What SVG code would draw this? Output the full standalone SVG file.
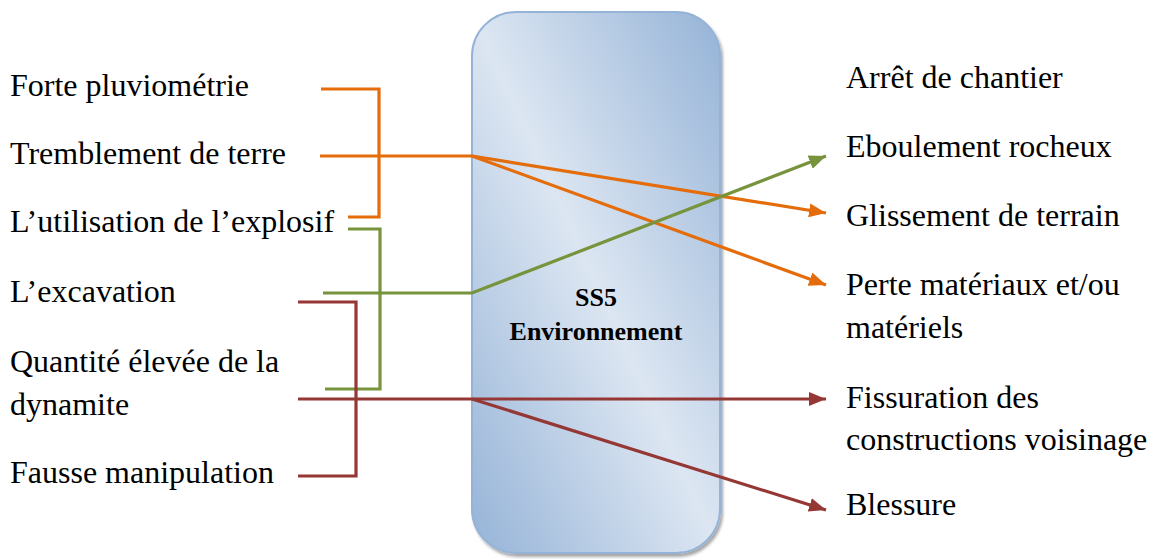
<svg xmlns="http://www.w3.org/2000/svg" width="1154" height="559" viewBox="0 0 1154 559">
<style>
.t{font-family:"Liberation Serif","Times New Roman",serif;font-size:32px;fill:#000}
.b{font-family:"Liberation Serif","Times New Roman",serif;font-size:26px;font-weight:bold;fill:#000;text-anchor:middle}
.o{stroke:#e46c0a;stroke-width:3.2;fill:none}
.g{stroke:#77933c;stroke-width:3.2;fill:none}
.r{stroke:#953735;stroke-width:3.2;fill:none}
</style>
<defs>
<linearGradient id="bg" x1="1" y1="0" x2="0" y2="1">
<stop offset="0" stop-color="#95b3d7"/>
<stop offset="0.5" stop-color="#dce6f2"/>
<stop offset="1" stop-color="#95b3d7"/>
</linearGradient>
<filter id="sh" x="-10%" y="-10%" width="120%" height="120%">
<feDropShadow dx="2" dy="3" stdDeviation="1.5" flood-color="#000" flood-opacity="0.35"/>
</filter>
<marker id="ao" markerUnits="userSpaceOnUse" markerWidth="18" markerHeight="16" refX="17" refY="7" orient="auto"><path d="M0,0 L17,7 L0,14 z" fill="#e46c0a"/></marker>
<marker id="ag" markerUnits="userSpaceOnUse" markerWidth="18" markerHeight="16" refX="17" refY="7" orient="auto"><path d="M0,0 L17,7 L0,14 z" fill="#77933c"/></marker>
<marker id="ar" markerUnits="userSpaceOnUse" markerWidth="18" markerHeight="16" refX="17" refY="7" orient="auto"><path d="M0,0 L17,7 L0,14 z" fill="#953735"/></marker>
</defs>

<g id="box">
<rect x="472" y="12" width="248" height="541" rx="44" fill="url(#bg)" stroke="#95b3d7" stroke-width="2" filter="url(#sh)"/>
<text class="b" x="596" y="306">SS5</text>
<text class="b" x="596" y="340">Environnement</text>
</g>

<g id="causes">
<text class="t" x="10" y="96">Forte pluviométrie</text>
<text class="t" x="10" y="164">Tremblement de terre</text>
<text class="t" x="10" y="232">L’utilisation de l’explosif</text>
<text class="t" x="10" y="302">L’excavation</text>
<text class="t" x="10" y="372">Quantité élevée de la</text>
<text class="t" x="10" y="415">dynamite</text>
<text class="t" x="10" y="483">Fausse manipulation</text>
</g>

<g id="effects">
<text class="t" x="846" y="88">Arrêt de chantier</text>
<text class="t" x="846" y="157">Eboulement rocheux</text>
<text class="t" x="846" y="226">Glissement de terrain</text>
<text class="t" x="846" y="295">Perte matériaux et/ou</text>
<text class="t" x="846" y="338">matériels</text>
<text class="t" x="846" y="408">Fissuration des</text>
<text class="t" x="846" y="450">constructions voisinage</text>
<text class="t" x="846" y="515">Blessure</text>
</g>

<g id="connectors">
<path class="o" d="M321,89 H379 V217 H348"/>
<path class="o" d="M320,156 H472"/>
<path class="o" d="M472,156 L826,213" marker-end="url(#ao)"/>
<path class="o" d="M472,156 L826,285" marker-end="url(#ao)"/>
<path class="g" d="M348,229 H380 V389 H325"/>
<path class="g" d="M323,293 H472 L826,156" marker-end="url(#ag)"/>
<path class="r" d="M298,302 H356 V476 H298"/>
<path class="r" d="M298,399 H826" marker-end="url(#ar)"/>
<path class="r" d="M472,399 L826,510" marker-end="url(#ar)"/>
</g>
</svg>
